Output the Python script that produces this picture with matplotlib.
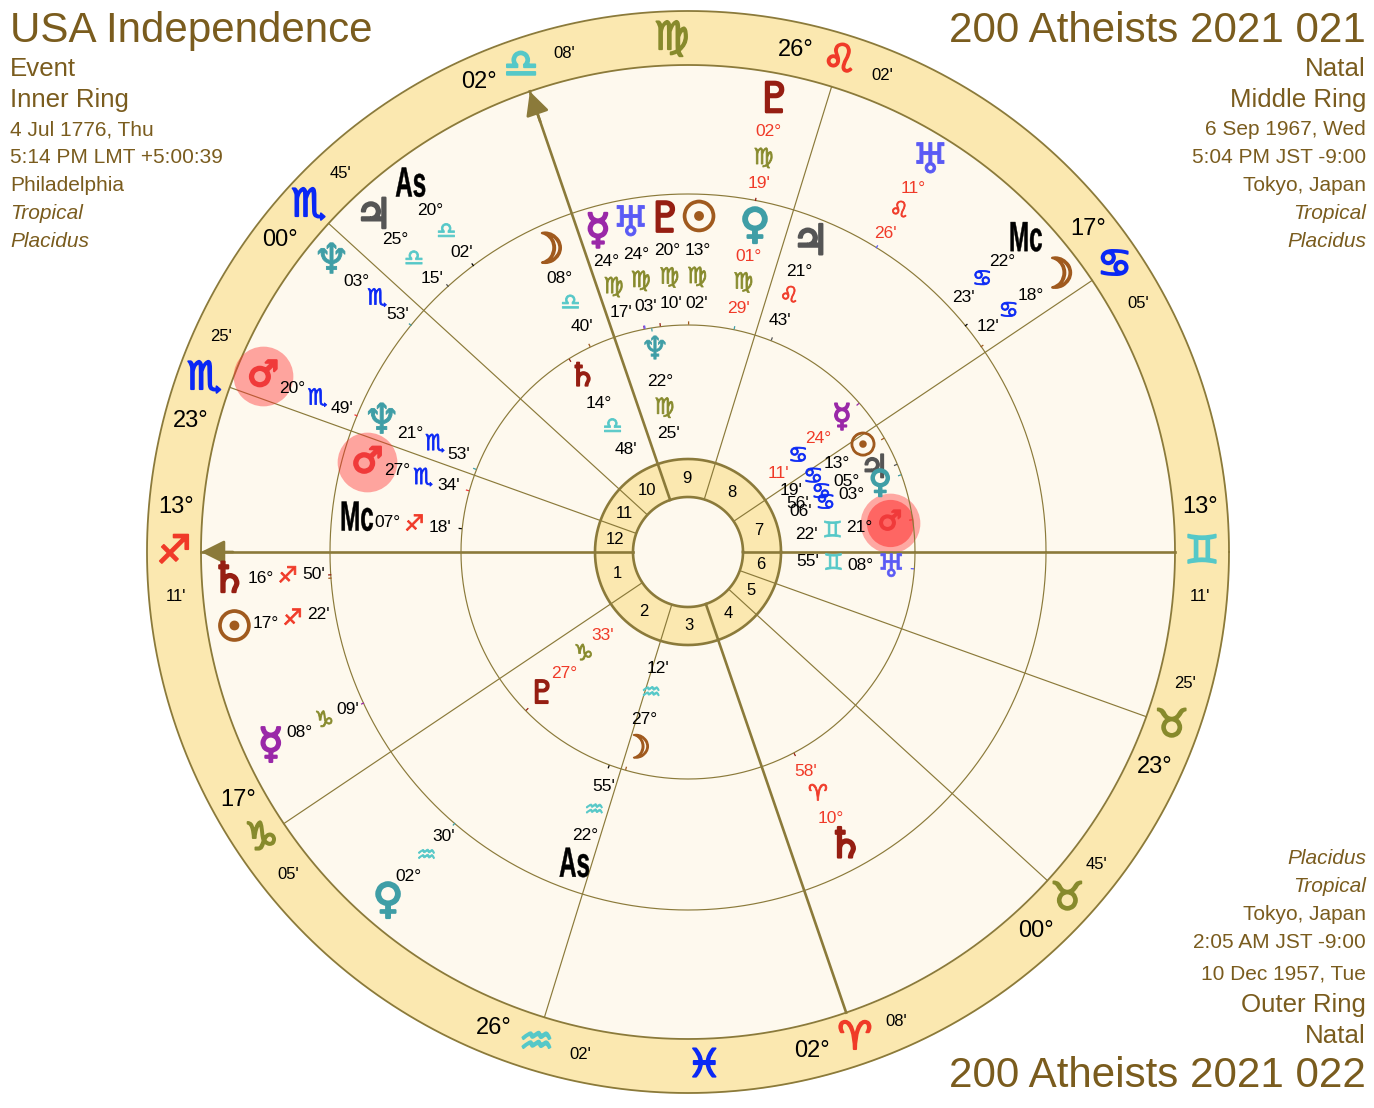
import numpy as np
import matplotlib
matplotlib.use("Agg")
import matplotlib.pyplot as plt
from matplotlib.patheffects import AbstractPathEffect
from matplotlib.transforms import Affine2D

W, H = 1374, 1108
CX, CY, RMAX = 688, 552, 560

SIGNS = ["Ari","Tau","Gem","Can","Leo","Vir","Lib","Sco","Sag","Cap","Aqu","Pis"]
SIGN_GLYPH = dict(zip(SIGNS, "♈♉♊♋♌♍♎♏♐♑♒♓"))
RED, OLIVE, TURQ, BLUE = "#f03a28", "#878a2c", "#55c8c8", "#0a28f5"
SIGN_COLOR = dict(zip(SIGNS, [RED, OLIVE, TURQ, BLUE] * 3))
PLANET_GLYPH = {"Sun":"☉","Moon":"☽","Mercury":"☿","Venus":"♀","Mars":"♂","Jupiter":"♃",
                "Saturn":"♄","Uranus":"♅","Neptune":"♆","Pluto":"♇","Mc":"Mc","As":"As"}
PLANET_COLOR = {"Sun":"#a05a1e","Moon":"#a05a1e","Mercury":"#9a28a8","Venus":"#3f9ea6","Mars":"#f03a3a",
                "Jupiter":"#555555","Saturn":"#961e12","Uranus":"#5a5af5","Neptune":"#3f9ea6","Pluto":"#961e12",
                "Mc":"#000000","As":"#000000"}

# house cusps
cusp_deg  = [13, 17, 26, 2, 0, 23, 13, 17, 26, 2, 0, 23]
cusp_sign = ["Sag","Cap","Aqu","Ari","Tau","Tau","Gem","Can","Leo","Lib","Sco","Sco"]
cusp_min  = [11, 5, 2, 8, 45, 25, 11, 5, 2, 8, 45, 25]
intercepted_signs = ["Vir", "Pis"]

# outer ring
outer_names = ["Pluto","Uranus","Mc","Moon","As","Jupiter","Neptune","Mars","Saturn","Sun","Mercury","Venus"]
outer_deg   = [2, 11, 22, 18, 20, 25, 3, 20, 16, 17, 8, 2]
outer_sign  = ["Vir","Leo","Can","Can","Lib","Lib","Sco","Sco","Sag","Sag","Cap","Aqu"]
outer_min   = [19, 26, 23, 12, 2, 15, 53, 49, 50, 22, 9, 30]
outer_retro = [1, 1, 0, 0, 0, 0, 0, 0, 0, 0, 0, 0]
outer_disp  = [79.15, 58.2, 42.8, 36.9, 127.05, 133.1, 140.8, 157.5, 183.5, 189.6, 204.9, 229.3]

# middle ring
middle_names = ["Moon","Mercury","Uranus","Pluto","Sun","Venus","Jupiter","Neptune","Mars","Mc","As","Saturn"]
middle_deg   = [8, 24, 24, 20, 13, 1, 21, 21, 27, 7, 22, 10]
middle_sign  = ["Lib","Vir","Vir","Vir","Vir","Vir","Leo","Sco","Sco","Sag","Aqu","Ari"]
middle_min   = [40, 17, 3, 10, 2, 29, 43, 53, 34, 18, 55, 58]
middle_retro = [0, 0, 0, 0, 0, 1, 0, 0, 0, 0, 0, 1]
middle_disp  = [115.3, 105.7, 99.9, 93.9, 88.1, 78.4, 68.4, 156.9, 164.4, 174.3, 250.1, 298.2]

# inner ring
inner_names = ["Neptune","Saturn","Pluto","Moon","Mercury","Sun","Jupiter","Venus","Mars","Uranus"]
inner_deg   = [22, 14, 27, 27, 24, 13, 5, 3, 21, 8]
inner_sign  = ["Vir","Lib","Cap","Aqu","Can","Can","Can","Can","Gem","Gem"]
inner_min   = [25, 48, 33, 12, 11, 19, 56, 6, 22, 55]
inner_retro = [0, 0, 1, 0, 1, 0, 0, 0, 0, 0]
inner_disp  = [99.3, 121.1, 224.4, 255.4, 41.0, 30.9, 24.0, 19.5, 8.2, -4.6]

INK = "#7a5c1e"
left_lines = [("USA Independence",42,30.3,"normal"),("Event",76,18.6,"normal"),("Inner Ring",107,18.6,"normal"),
              ("4 Jul 1776, Thu",135,15,"normal"),("5:14 PM LMT +5:00:39",163,15,"normal"),
              ("Philadelphia",191,15,"normal"),("Tropical",219,15,"italic"),("Placidus",247,15,"italic")]
right_lines = [("200 Atheists 2021 021",42,30.3,"normal"),("Natal",76,18.6,"normal"),("Middle Ring",107,18.6,"normal"),
               ("6 Sep 1967, Wed",135,15,"normal"),("5:04 PM JST -9:00",163,15,"normal"),
               ("Tokyo, Japan",191,15,"normal"),("Tropical",219,15,"italic"),("Placidus",247,15,"italic"),
               ("Placidus",864,15,"italic"),("Tropical",892,15,"italic"),("Tokyo, Japan",920,15,"normal"),
               ("2:05 AM JST -9:00",948,15,"normal"),("10 Dec 1957, Tue",979,15,"normal"),
               ("Outer Ring",1012,18.6,"normal"),("Natal",1043,18.6,"normal"),("200 Atheists 2021 022",1087,30.3,"normal")]


class Shape(AbstractPathEffect):
    """Scale a text's outline about its own centre and thicken it."""
    def __init__(self, sx=1.0, sy=1.0, stroke=0.0):
        super().__init__()
        self.sx, self.sy, self.stroke = sx, sy, stroke

    def draw_path(self, renderer, gc, tpath, affine, rgbFace=None):
        ext = tpath.get_extents()
        cx, cy = (ext.x0 + ext.x1)/2, (ext.y0 + ext.y1)/2
        pre = Affine2D().translate(-cx, -cy).scale(self.sx, self.sy).translate(cx, cy)
        g = renderer.new_gc()
        g.copy_properties(gc)
        g.set_linewidth(self.stroke)
        g.set_foreground(rgbFace)
        g.set_joinstyle("round")
        renderer.draw_path(g, tpath, pre + affine, rgbFace)
        g.restore()


plt.rcParams["font.family"] = ["Liberation Sans", "DejaVu Sans"]
fig = plt.figure(figsize=(W/100, H/100), dpi=100, facecolor="white")
ax = fig.add_axes([(CX-RMAX)/W, (H-CY-RMAX)/H, 2*RMAX/W, 2*RMAX/H], projection="polar")
ax.set_axis_off()
ax.set_ylim(0, RMAX)
ax.patch.set_alpha(0)

LINE = "#8b7a3a"
BAND = "#fbe8b0"
CREAM = "#fef9ee"
ASC = cusp_deg[0] + cusp_min[0]/60 + 30*SIGNS.index(cusp_sign[0])

def lon(sign, d, m):
    return 30*SIGNS.index(sign) + d + m/60

def th(longitude):
    return np.radians(180 + longitude - ASC)

circ = np.linspace(0, 2*np.pi, 721)
ax.fill_between(circ, 0, 487, color=CREAM, lw=0, zorder=1)
ax.fill_between(circ, 487, 541, color=BAND, lw=0, zorder=1)
ax.fill_between(circ, 55, 93, color=BAND, lw=0, zorder=1)
for r, lw in [(541, 1.3), (487, 1.3), (358, 0.85), (227, 0.85)]:
    ax.plot(circ, np.full_like(circ, r), color=LINE, lw=lw, zorder=3)
for r in (55, 93):
    ax.plot(circ, np.full_like(circ, r), color=LINE, lw=1.9, zorder=3)

# cusps
cusp_lon = [lon(s, d, m) for s, d, m in zip(cusp_sign, cusp_deg, cusp_min)]
for i, L in enumerate(cusp_lon):
    t = th(L)
    main = i % 3 == 0
    ax.plot([t, t], [55, 487], color=LINE, lw=1.9 if main else 0.85, zorder=3)
    if i in (0, 9):
        ax.annotate("", xy=(t, 487), xytext=(t, 455), zorder=4,
                    arrowprops=dict(arrowstyle="-|>", mutation_scale=36, color=LINE, lw=1.9,
                                    shrinkA=0, shrinkB=0))
    deg = np.degrees(t) % 360
    off = np.radians(5 if deg < 180 else -5)
    sg = cusp_sign[i]
    ax.text(t + off, 514, f"{cusp_deg[i]:02d}°", fontsize=17, ha="center", va="center", zorder=6)
    ax.text(t, 514, SIGN_GLYPH[sg], fontsize=28, color=SIGN_COLOR[sg], family="DejaVu Sans",
            ha="center", va="center", zorder=6, path_effects=[Shape(stroke=1.3)])
    ax.text(t - off, 514, f"{cusp_min[i]:02d}'", fontsize=12, ha="center", va="center", zorder=6)
    nxt = cusp_lon[(i+1) % 12]
    mid = L + ((nxt - L) % 360)/2
    ax.text(th(mid), 74, str(i+1), fontsize=12, ha="center", va="center", zorder=6)

for sg in intercepted_signs:
    ax.text(th(lon(sg, 15, 0)), 514, SIGN_GLYPH[sg], fontsize=28, color=SIGN_COLOR[sg],
            family="DejaVu Sans", ha="center", va="center", zorder=6, path_effects=[Shape(stroke=1.3)])

def ring(names, degs, signs, mins, retro, disp, radii, tick, gsize, ssize, mcsize, gstroke, double_glow=False):
    for n, d, s, m, rt, a in zip(names, degs, signs, mins, retro, disp):
        t = np.radians(a)
        col = RED if rt else "black"
        if n == "Mars":
            if double_glow:
                ax.plot([t], [radii[0]], "o", ms=43, color="#ff3030", alpha=0.40, mew=0, zorder=2)
                ax.plot([t], [radii[0]], "o", ms=34, color="#ff3030", alpha=0.55, mew=0, zorder=2)
            else:
                ax.plot([t], [radii[0]], "o", ms=43, color="#ff3030", alpha=0.42, mew=0, zorder=5)
        if n in ("Mc", "As"):
            ax.text(t, radii[0], PLANET_GLYPH[n], fontsize=mcsize, fontweight="bold", color="black",
                    ha="center", va="center", zorder=6, path_effects=[Shape(sx=0.6, sy=1.05, stroke=0.3)])
        else:
            scale = 0.85 if n == "Mars" else 1.0
            stroke = gstroke * (0.4 if n in ("Neptune", "Uranus") else 1.0)
            ax.text(t, radii[0], PLANET_GLYPH[n], fontsize=gsize, color=PLANET_COLOR[n],
                    family="DejaVu Sans", ha="center", va="center", zorder=6,
                    path_effects=[Shape(sx=scale, sy=scale, stroke=stroke)])
        ax.text(t, radii[1], f"{d:02d}°", fontsize=12.5, color=col, ha="center", va="center", zorder=6)
        ax.text(t, radii[2], SIGN_GLYPH[s], fontsize=ssize, color=SIGN_COLOR[s], family="DejaVu Sans",
                ha="center", va="center", zorder=6, path_effects=[Shape(stroke=0.6)])
        ax.text(t, radii[3], f"{m:02d}'", fontsize=12.5, color=col, ha="center", va="center", zorder=6)
        tt = th(lon(s, d, m))
        ax.plot([tt, tt], tick, color=PLANET_COLOR[n], lw=0.9, zorder=4)

ring(outer_names, outer_deg, outer_sign, outer_min, outer_retro, outer_disp,
     (460, 428, 401, 375), (358, 360), 30, 16, 29, 1.6)
ring(middle_names, middle_deg, middle_sign, middle_min, middle_retro, middle_disp,
     (333, 302, 275, 249), (228, 230), 30, 16, 29, 1.6)
ring(inner_names, inner_deg, inner_sign, inner_min, inner_retro, inner_disp,
     (204, 173, 146, 120), (224, 226), 23, 16, 29, 1.2, double_glow=True)

for txt, y, size, style in left_lines:
    fig.text(10/W, 1 - y/H, txt, fontsize=size, style=style, color=INK, ha="left", va="baseline")
for txt, y, size, style in right_lines:
    fig.text(1366/W, 1 - y/H, txt, fontsize=size, style=style, color=INK, ha="right", va="baseline")

fig.savefig("out.png", dpi=100, facecolor="white")
